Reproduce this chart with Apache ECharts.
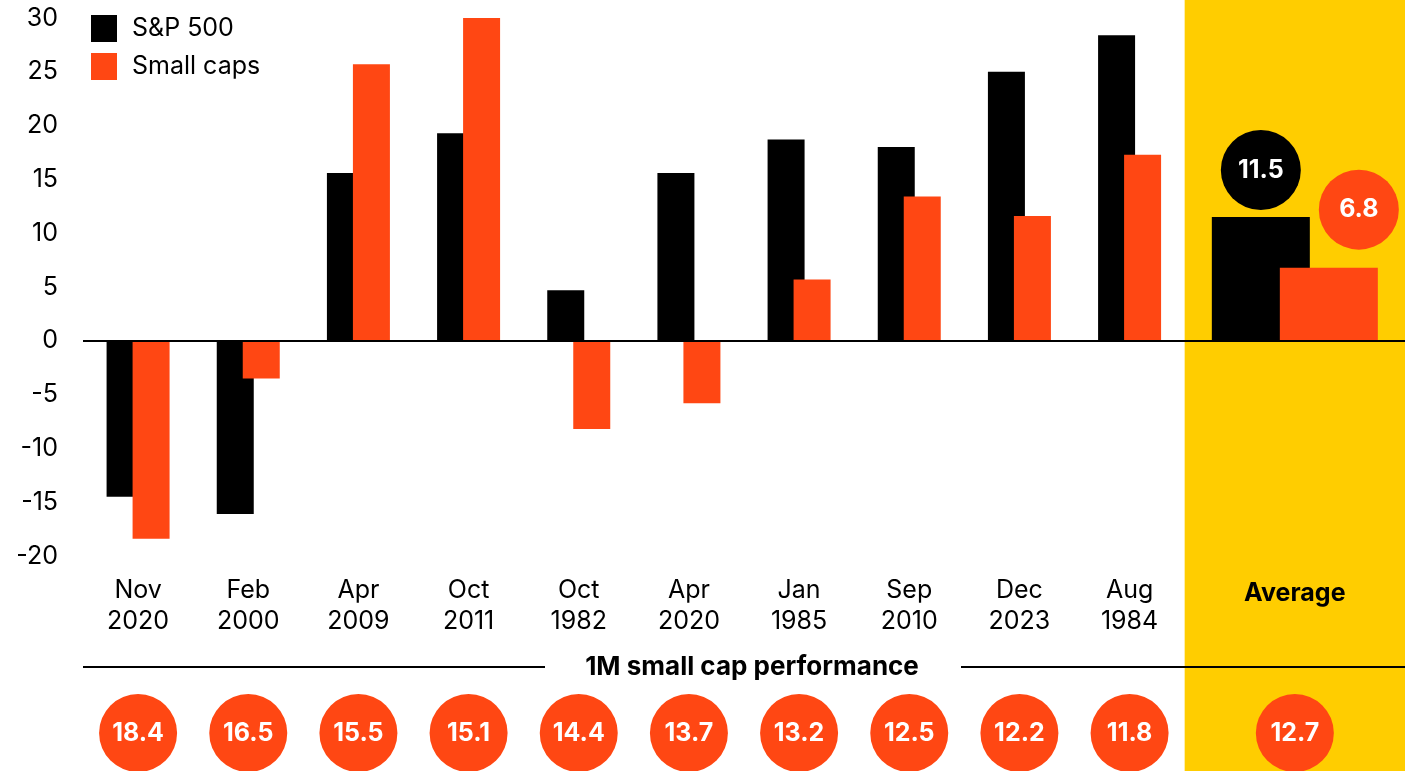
<!DOCTYPE html>
<html lang="en">
<head>
  <meta charset="UTF-8" />
  <script src="https://cdn.jsdelivr.net/npm/echarts@6/dist/echarts.min.js"></script>
  <title>S&P 500 vs small caps</title>
  <style>
    html, body { margin: 0; padding: 0; background: #fff; }
  </style>
</head>
<body>
  <div id="main" style="width: 1405px; height: 771px;"></div>
  <script type="text/javascript">
    // months sorted by 1M small cap performance, plus the average
    var categories = ["Nov\n2020", "Feb\n2000", "Apr\n2009", "Oct\n2011", "Oct\n1982",
      "Apr\n2020", "Jan\n1985", "Sep\n2010", "Dec\n2023", "Aug\n1984", "Average"];
    var sp500 = [-14.5, -16.1, 15.6, 19.3, 4.7, 15.6, 18.7, 18.0, 25.0, 28.4, 11.5];
    var smallCaps = [-18.4, -3.5, 25.7, 30.0, -8.2, -5.8, 5.7, 13.4, 11.6, 17.3, 6.8];
    var perf1M = [18.4, 16.5, 15.5, 15.1, 14.4, 13.7, 13.2, 12.5, 12.2, 11.8, 12.7];
    var yTicks = { min: -20, max: 30, step: 5 };

    var BLACK = "#000000";
    var ORANGE = "#ff4713";
    var YELLOW = "#ffcd00";
    var FONT = "Inter, 'Noto Sans', sans-serif";
    var AVG = categories.length - 1;

    // the average column sits half a slot further right
    function xPos(i) {
      return i === AVG ? i + 0.5 : i;
    }
    var X_MIN = -0.5;
    var X_MAX = xPos(AVG) + 1;

    // bars drawn side by side (overlapping a bit), the average gets a bubble with its value
    function makeRender(color, side, bubbleDx, bubbleGap) {
      return function (params, api) {
        var i = api.value(2);
        var avg = i === AVG;
        var w = avg ? 98 : 37;
        var cx = api.coord([api.value(0), 0])[0] + side * (avg ? 34 : 13);
        var y0 = api.coord([api.value(0), 0])[1];
        var y1 = api.coord([api.value(0), api.value(1)])[1];
        var children = [{
          type: "rect",
          shape: { x: cx - w / 2, y: Math.min(y0, y1), width: w, height: Math.abs(y1 - y0) },
          style: { fill: color }
        }];
        if (avg) {
          var bx = cx + bubbleDx;
          var by = y1 - bubbleGap;
          children.push({
            type: "circle",
            shape: { cx: bx, cy: by, r: 40 },
            style: { fill: color }
          });
          children.push({
            type: "text",
            x: bx, y: by,
            style: {
              text: api.value(1).toFixed(1), fill: "#fff", align: "center", verticalAlign: "middle",
              fontSize: 25, fontWeight: "bold", fontFamily: FONT
            }
          });
        }
        return { type: "group", children: children };
      };
    }

    var myChart = echarts.init(document.getElementById("main"));

    myChart.setOption({
      animation: false,
      textStyle: { fontFamily: FONT },
      legend: {
        orient: "vertical",
        left: 91,
        top: 15,
        padding: 0,
        icon: "rect",
        itemWidth: 26,
        itemHeight: 27,
        itemGap: 11,
        textStyle: { fontSize: 25, color: "#000", fontFamily: FONT, padding: [0, 0, 0, 10] },
        data: ["S&P 500", "Small caps"]
      },
      grid: [
        { left: 83, right: 0, top: 18, bottom: 215 },
        { left: 83, right: 0, top: 695, height: 76 }
      ],
      xAxis: [
        {
          type: "value",
          gridIndex: 0,
          min: X_MIN,
          max: X_MAX,
          interval: 0.5,
          axisLine: { show: false },
          axisTick: { show: false },
          splitLine: { show: false },
          axisLabel: {
            color: "#000",
            fontSize: 25,
            lineHeight: 31,
            margin: 19,
            fontFamily: FONT,
            showMaxLabel: false,
            formatter: function (val) {
              var v = Math.round(val * 2) / 2;
              for (var i = 0; i < categories.length; i++) {
                if (xPos(i) === v) {
                  return i === AVG ? "{b|" + categories[i] + "}" : categories[i];
                }
              }
              return "";
            },
            rich: {
              b: { fontWeight: "bold", fontSize: 25, color: "#000", fontFamily: FONT, padding: [6, 0, 0, 0] }
            }
          }
        },
        {
          type: "value",
          gridIndex: 1,
          min: X_MIN,
          max: X_MAX,
          show: false
        }
      ],
      yAxis: [
        {
          type: "value",
          gridIndex: 0,
          min: yTicks.min,
          max: yTicks.max,
          interval: yTicks.step,
          axisLine: { show: false },
          axisTick: { show: false },
          splitLine: { show: false },
          axisLabel: { color: "#000", fontSize: 25, margin: 25, fontFamily: FONT }
        },
        { type: "value", gridIndex: 1, min: 0, max: 1, show: false }
      ],
      series: [
        {
          name: "S&P 500",
          type: "custom",
          xAxisIndex: 0,
          yAxisIndex: 0,
          itemStyle: { color: BLACK },
          renderItem: makeRender(BLACK, -1, 0, 47),
          encode: { x: 0, y: 1 },
          data: sp500.map(function (v, i) { return [xPos(i), v, i]; }),
          markLine: {
            silent: true,
            symbol: "none",
            label: { show: false },
            lineStyle: { color: "#000", width: 2, type: "solid", opacity: 1 },
            data: [{ yAxis: 0 }]
          },
          z: 3
        },
        {
          name: "Small caps",
          type: "custom",
          xAxisIndex: 0,
          yAxisIndex: 0,
          itemStyle: { color: ORANGE },
          renderItem: makeRender(ORANGE, 1, 30, 58),
          encode: { x: 0, y: 1 },
          data: smallCaps.map(function (v, i) { return [xPos(i), v, i]; }),
          z: 4
        },
        {
          name: "1M small cap performance",
          type: "scatter",
          xAxisIndex: 1,
          yAxisIndex: 1,
          clip: false,
          symbol: "circle",
          symbolSize: 78,
          itemStyle: { color: ORANGE, opacity: 1 },
          emphasis: { disabled: true },
          label: {
            show: true,
            position: "inside",
            color: "#fff",
            fontSize: 25,
            fontWeight: "bold",
            fontFamily: FONT,
            formatter: function (p) { return p.value[2].toFixed(1); }
          },
          data: perf1M.map(function (v, i) { return [xPos(i), 0.5, v]; })
        }
      ]
    });

    // yellow band behind the average column and the divider above the bubbles
    var W = myChart.getWidth();
    var H = myChart.getHeight();
    var bandX = myChart.convertToPixel({ xAxisIndex: 0 }, xPos(AVG) - 1);
    var leftX = myChart.convertToPixel({ xAxisIndex: 0 }, X_MIN);
    var lineY = 667;
    myChart.setOption({
      graphic: [
        { type: "rect", z: -10, silent: true, shape: { x: bandX, y: 0, width: W - bandX, height: H }, style: { fill: YELLOW } },
        { type: "line", silent: true, shape: { x1: leftX, y1: lineY, x2: 545, y2: lineY }, style: { stroke: "#000", lineWidth: 2 } },
        { type: "line", silent: true, shape: { x1: 961, y1: lineY, x2: W, y2: lineY }, style: { stroke: "#000", lineWidth: 2 } },
        {
          type: "text", silent: true, x: 752, y: lineY,
          style: { text: "1M small cap performance", fill: "#000", align: "center", verticalAlign: "middle", fontSize: 26, fontWeight: "bold", fontFamily: FONT }
        }
      ]
    });
  </script>
</body>
</html>
